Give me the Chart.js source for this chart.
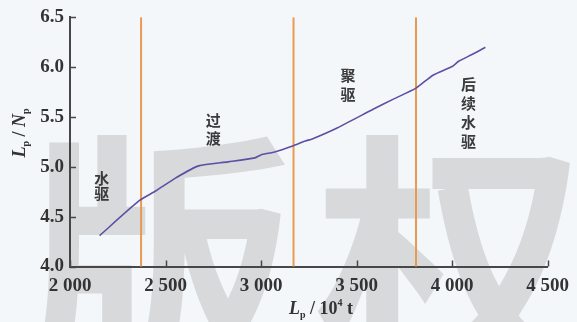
<!DOCTYPE html>
<html>
<head>
<meta charset="utf-8">
<script src="https://cdn.jsdelivr.net/npm/chart.js@4/dist/chart.umd.min.js"></script>
<style>
  html, body { margin: 0; padding: 0; background: #f4f7fa; }
  canvas { display: block; }
</style>
</head>
<body>
<canvas id="c" width="577" height="322"></canvas>
<script>
// Cumulative liquid production L_p (10^4 t)
const cumLiquid = [2155, 2362, 2450, 2554, 2673, 2828, 2968, 2999, 3071, 3165, 3232, 3268, 3398, 3589, 3693, 3811, 3900, 4003, 4034, 4107, 4174];
// Liquid-oil ratio L_p / N_p
const liquidOilRatio = [4.31, 4.66, 4.76, 4.89, 5.01, 5.05, 5.09, 5.12, 5.15, 5.21, 5.26, 5.28, 5.39, 5.58, 5.68, 5.79, 5.92, 6.01, 6.06, 6.13, 6.20];
// Stage boundaries on the L_p axis
const stageBoundaries = [2372, 3170, 3811];
// Stage names, drawn as vertical stacks of characters
const stageNames = ['水驱', '过渡', '聚驱', '后续水驱'];
// Axis ticks
const xTicks = [2000, 2500, 3000, 3500, 4000, 4500];
const yTicks = [4.0, 4.5, 5.0, 5.5, 6.0, 6.5];

const curvePoints = cumLiquid.map((x, i) => ({ x, y: liquidOilRatio[i] }));
const boundaryDatasets = stageBoundaries.map(x => ({
  type: 'line',
  data: [{ x, y: yTicks[0] }, { x, y: yTicks[yTicks.length - 1] }],
  borderColor: '#e99a52',
  borderWidth: 2,
  pointRadius: 0,
  order: 2,
  clip: false
}));

const fmtThousands = v => v >= 1000 ? Math.floor(v / 1000) + ' ' + String(v % 1000).padStart(3, '0') : String(v);

// background and faint watermark characters
const backdrop = {
  id: 'backdrop',
  beforeDraw(chart) {
    const ctx = chart.ctx;
    ctx.save();
    ctx.fillStyle = '#f4f7fa';
    ctx.fillRect(0, 0, chart.width, chart.height);
    ctx.fillStyle = 'rgba(150,150,150,0.3)';
    ctx.font = 'bold 270px "Noto Sans CJK SC"';
    ctx.textAlign = 'center';
    ctx.textBaseline = 'middle';
    ctx.fillText('版', 160, 262);
    ctx.fillText('权', 450, 262);
    ctx.restore();
  }
};

// inward tick marks, stage names and axis titles with sub/superscripts
const decorations = {
  id: 'decorations',
  afterDraw(chart) {
    const ctx = chart.ctx;
    const xs = chart.scales.x, ys = chart.scales.y;
    const area = chart.chartArea;
    ctx.save();
    ctx.strokeStyle = '#474747';
    ctx.lineWidth = 1.5;
    xTicks.forEach(v => {
      const px = Math.round(xs.getPixelForValue(v)) + 0.5;
      ctx.beginPath(); ctx.moveTo(px, area.bottom); ctx.lineTo(px, area.bottom - 6); ctx.stroke();
    });
    yTicks.forEach(v => {
      const py = Math.round(ys.getPixelForValue(v)) + 0.5;
      ctx.beginPath(); ctx.moveTo(area.left, py); ctx.lineTo(area.left + 6, py); ctx.stroke();
    });

    // stage names: [anchor x value, first-char y value, line step px]
    const anchors = [[2166, 4.885, 15], [2750, 5.465, 18], [3455, 5.92, 19], [4086, 5.83, 19]];
    ctx.fillStyle = '#3a3a3a';
    ctx.font = 'bold 15px "Noto Sans CJK SC"';
    ctx.textAlign = 'center';
    ctx.textBaseline = 'middle';
    stageNames.forEach((name, i) => {
      const [ax, ay, step] = anchors[i];
      const px = xs.getPixelForValue(ax), py = ys.getPixelForValue(ay);
      [...name].forEach((ch, k) => ctx.fillText(ch, px, py + k * step));
    });

    const drawRich = (segs, cx, baseY) => {
      ctx.textAlign = 'left';
      ctx.textBaseline = 'alphabetic';
      let total = 0;
      segs.forEach(s => { ctx.font = s.font; s.w = ctx.measureText(s.text).width; total += s.w; });
      let x = cx - total / 2;
      segs.forEach(s => { ctx.font = s.font; ctx.fillText(s.text, x, baseY + (s.dy || 0)); x += s.w; });
    };
    const big = 'bold 18px "Liberation Serif"';
    const ital = 'italic bold 18px "Liberation Serif"';
    const small = 'bold 10px "Liberation Serif"';
    ctx.fillStyle = '#333';
    drawRich([
      { text: 'L', font: ital },
      { text: 'p', font: small, dy: 4 },
      { text: ' / 10', font: big },
      { text: '4', font: small, dy: -8 },
      { text: ' t', font: big }
    ], 321, 314);

    ctx.save();
    ctx.translate(25, 133);
    ctx.rotate(-Math.PI / 2);
    drawRich([
      { text: 'L', font: ital },
      { text: 'p', font: small, dy: 4 },
      { text: ' / ', font: big },
      { text: 'N', font: ital },
      { text: 'p', font: small, dy: 4 }
    ], 0, 0);
    ctx.restore();
    ctx.restore();
  }
};

new Chart(document.getElementById('c'), {
  type: 'line',
  data: {
    datasets: [
      {
        data: curvePoints,
        borderColor: '#5d4fa3',
        borderWidth: 1.6,
        pointRadius: 0,
        tension: 0.2,
        order: 1
      },
      ...boundaryDatasets
    ]
  },
  options: {
    responsive: false,
    animation: false,
    layout: { padding: { left: 0, right: 24, top: 16, bottom: 0 } },
    plugins: { legend: { display: false }, tooltip: { enabled: false } },
    scales: {
      x: {
        type: 'linear',
        min: xTicks[0],
        max: xTicks[xTicks.length - 1],
        afterBuildTicks: s => { s.ticks = xTicks.map(v => ({ value: v })); },
        afterFit: s => { s.height = 55.5; },
        grid: { display: true, drawOnChartArea: false, drawTicks: false },
        border: { display: true, color: '#474747', width: 2 },
        ticks: {
          padding: 8,
          color: '#333',
          font: { family: '"Liberation Serif"', size: 19, weight: 'bold' },
          maxRotation: 0,
          callback: v => fmtThousands(v)
        }
      },
      y: {
        type: 'linear',
        min: yTicks[0],
        max: yTicks[yTicks.length - 1],
        afterBuildTicks: s => { s.ticks = yTicks.map(v => ({ value: v })); },
        afterFit: s => { s.width = 70; },
        grid: { display: true, drawOnChartArea: false, drawTicks: false },
        border: { display: true, color: '#474747', width: 2 },
        ticks: {
          padding: 6,
          color: '#333',
          font: { family: '"Liberation Serif"', size: 19, weight: 'bold' },
          callback: v => v.toFixed(1)
        }
      }
    }
  },
  plugins: [backdrop, decorations]
});
</script>
</body>
</html>
